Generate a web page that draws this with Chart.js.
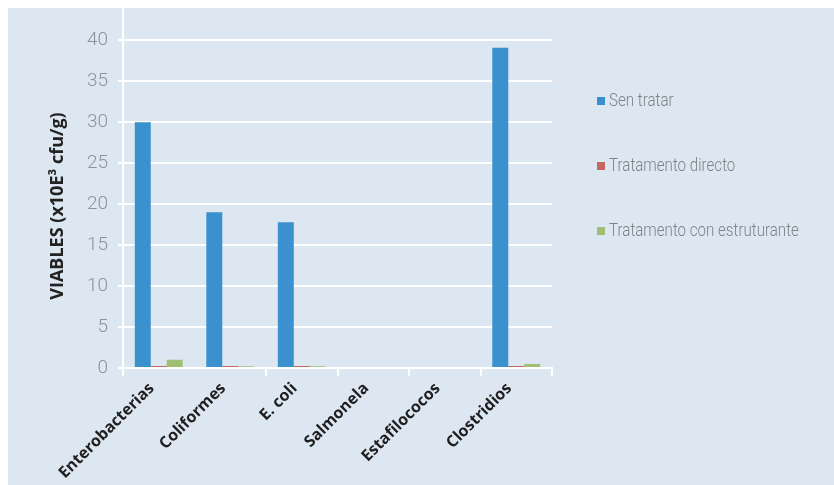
<!DOCTYPE html>
<html>
<head>
<meta charset="utf-8">
<script src="https://cdn.jsdelivr.net/npm/chart.js@4.4.1/dist/chart.umd.min.js"></script>
<style>
  html, body { margin: 0; padding: 0; background: #ffffff; }
  #panel {
    position: absolute; left: 8px; top: 8px;
    width: 826px; height: 477px;
    background: #dde7f1; overflow: hidden;
  }
  #wrap { position: absolute; left: 0; top: -30px; width: 826px; height: 507px; }
</style>
</head>
<body>
<div id="panel"><div id="wrap"><canvas id="chart"></canvas></div></div>
<script>
// Données
const categories = ['Enterobacterias', 'Coliformes', 'E. coli', 'Salmonela', 'Estafilococos', 'Clostridios'];
const senTratar = [30, 19, 17.8, 0, 0, 39.1];
const tratDirecto = [0.25, 0.25, 0.25, 0, 0, 0.25];
const tratEstruturante = [1.0, 0.2, 0.2, 0, 0, 0.5];
const seriesNames = ['Sen tratar', 'Tratamento directo', 'Tratamento con estruturante'];
const seriesColors = ['#3a91cd', '#c4695f', '#a0bf74'];
const yTicks = [0, 5, 10, 15, 20, 25, 30, 35, 40, 45];

const lightFont = 'Roboto';
const boldFont = '"Open Sans", sans-serif';

// Titre de l'axe Y et légende dessinés à la main
const extras = {
    id: 'extras',
    afterDraw(chart) {
        const ctx = chart.ctx;
        ctx.save();
        ctx.translate(50, 228);
        ctx.rotate(-Math.PI / 2);
        ctx.font = 'bold 18px ' + boldFont;
        ctx.fillStyle = '#222222';
        ctx.textAlign = 'center';
        ctx.textBaseline = 'middle';
        ctx.fillText('VIABLES (x10E\u00b3 cfu/g)', 0, 0);
        ctx.restore();

        const legendY = [123, 188, 253];
        chart.data.datasets.forEach((ds, i) => {
            ctx.save();
            ctx.fillStyle = ds.backgroundColor;
            ctx.fillRect(589, legendY[i] - 4, 8, 8);
            ctx.font = '300 18px ' + lightFont;
            ctx.textBaseline = 'middle';
            ctx.fillStyle = '#7d8288';
            ctx.translate(601, legendY[i]);
            ctx.scale(0.84, 1);
            ctx.fillText(ds.label, 0, 0);
            ctx.restore();
        });
    }
};

const ctx = document.getElementById('chart').getContext('2d');
new Chart(ctx, {
    type: 'bar',
    data: {
        labels: categories,
        datasets: [
            { label: seriesNames[0], data: senTratar, backgroundColor: seriesColors[0] },
            { label: seriesNames[1], data: tratDirecto, backgroundColor: seriesColors[1] },
            { label: seriesNames[2], data: tratEstruturante, backgroundColor: seriesColors[2] }
        ]
    },
    options: {
        responsive: true,
        maintainAspectRatio: false,
        animation: false,
        layout: { padding: { left: 0, right: 282, top: 1, bottom: 0 } },
        categoryPercentage: 0.67,
        barPercentage: 1.0,
        plugins: {
            legend: { display: false },
            tooltip: { enabled: false }
        },
        scales: {
            x: {
                grid: {
                    display: true,
                    drawOnChartArea: false,
                    color: c => (c.index === 1 ? 'rgba(255,255,255,0)' : '#ffffff'),
                    lineWidth: 2,
                    tickLength: 8
                },
                border: { color: '#ffffff', width: 2 },
                ticks: {
                    maxRotation: 45,
                    minRotation: 45,
                    autoSkip: false,
                    labelOffset: -7,
                    color: '#1e1e1e',
                    font: { family: boldFont, size: 16, weight: 'bold' }
                },
                afterFit(scale) { scale.height = 117; }
            },
            y: {
                min: 0,
                max: 45,
                afterBuildTicks(scale) { scale.ticks = yTicks.map(v => ({ value: v })); },
                grid: { color: '#ffffff', lineWidth: 2, tickLength: 5 },
                border: { color: '#ffffff', width: 2 },
                ticks: {
                    padding: 10,
                    color: '#8e939a',
                    font: { family: lightFont, size: 19, weight: '300' }
                },
                afterFit(scale) { scale.width = 115; }
            }
        }
    },
    plugins: [extras]
});
</script>
</body>
</html>
